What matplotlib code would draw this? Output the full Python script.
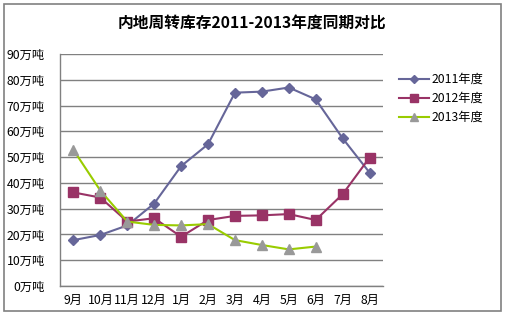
import matplotlib
matplotlib.use("Agg")
import matplotlib.pyplot as plt
from matplotlib.patches import Rectangle

plt.rcParams['font.family'] = ['Noto Sans CJK SC', 'DejaVu Sans']

months = ["9月", "10月", "11月", "12月", "1月", "2月", "3月", "4月", "5月", "6月", "7月", "8月"]
stock_2011 = [17.8, 19.8, 23.5, 32.0, 46.5, 55.0, 75.0, 75.4, 77.0, 72.4, 57.3, 44.0]
stock_2012 = [36.3, 34.3, 25.0, 26.3, 19.1, 25.6, 27.2, 27.4, 27.9, 25.6, 35.6, 49.8]
stock_2013 = [52.8, 37.0, 25.0, 23.7, 23.5, 24.0, 17.8, 15.9, 14.2, 15.3]
yticks = list(range(0, 100, 10))

W, H = 507, 322
fig = plt.figure(figsize=(W / 100, H / 100), dpi=100)
fig.patch.set_facecolor("white")

# outer chart border
fig.patches.append(Rectangle((4 / W, 1 - 311 / H), 497 / W, 307 / H,
                             transform=fig.transFigure, fill=False,
                             edgecolor="#808080", linewidth=1.2))

ax = fig.add_axes([60 / W, 1 - 286 / H, 323 / W, 232 / H])
x = list(range(len(months)))

ax.plot(x, stock_2011, color="#666699", marker="D", markersize=5,
        markerfacecolor="#666699", markeredgecolor="#666699", linewidth=1.5, label="2011年度")
ax.plot(x, stock_2012, color="#993366", marker="s", markersize=7,
        markerfacecolor="#993366", markeredgecolor="#993366", linewidth=1.5, label="2012年度")
ax.plot(x[:len(stock_2013)], stock_2013, color="#99CC00", marker="^", markersize=7,
        markerfacecolor="#999999", markeredgecolor="#999999", linewidth=1.5, label="2013年度")

ax.set_xlim(-0.5, len(months) - 0.5)
ax.set_ylim(0, 90)
ax.set_yticks(yticks)
ax.set_yticklabels([f"{v}万吨" for v in yticks], fontsize=8.8)
ax.set_xticks(x)
ax.set_xticklabels(months, fontsize=8.8)
ax.tick_params(axis="x", length=0, pad=6)
ax.tick_params(axis="y", length=0, pad=11)
ax.grid(axis="y", color="#808080", linewidth=1)
ax.set_axisbelow(True)
for side in ("top", "right"):
    ax.spines[side].set_visible(False)
for side in ("left", "bottom"):
    ax.spines[side].set_color("#808080")
    ax.spines[side].set_linewidth(1)

fig.text(252 / W, 1 - 24 / H, "内地周转库存2011-2013年度同期对比",
         ha="center", va="center", fontsize=11.3, fontweight="bold")

leg = fig.legend(loc="upper left", bbox_to_anchor=(394 / W, 1 - 68 / H), frameon=False,
                 fontsize=8.8, handlelength=2.5, labelspacing=0.5, handletextpad=0.15,
                 borderaxespad=0, markerscale=0.8)

fig.savefig("out.png", dpi=100, facecolor="white")
